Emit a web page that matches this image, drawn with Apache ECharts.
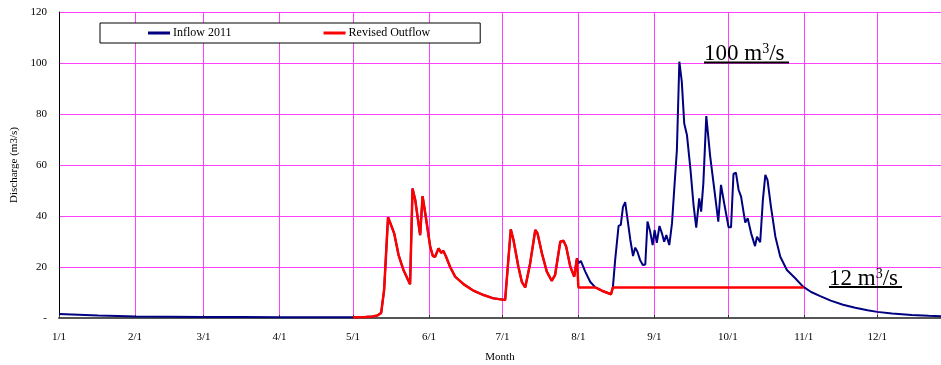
<!DOCTYPE html>
<html><head><meta charset="utf-8">
<script src="https://cdn.jsdelivr.net/npm/echarts@6/dist/echarts.min.js"></script>
<style>html,body{margin:0;padding:0;background:#fff}#c{width:941px;height:365px}</style>
</head><body><div id="c"></div>
<script>
const monthDays = [0, 31, 59, 90, 120, 151, 181, 212, 243, 273, 304, 334];
const monthLabels = ['1/1','2/1','3/1','4/1','5/1','6/1','7/1','8/1','9/1','10/1','11/1','12/1'];
const inflowDays = [0,8,16,24,31,45,59,75,90,105,120,125,128,130,131.5,132.7,134.3,135.8,136.8,138.6,140.6,143.3,144.3,145.4,147.4,148.4,149.7,151.5,152.6,153.5,154.9,156,156.9,158,159.7,161.7,165.1,169.2,173.3,177.3,182.1,184.4,185.5,187.5,188.9,190.3,192.3,194.4,195.3,197.1,199.1,201.1,202.5,204.6,205.9,207,208.7,210.3,211.4,212,213,214.8,216.8,218.9,221.6,225.3,226.1,227,228.4,229.3,230.2,231.1,232.1,233.2,234.3,235.2,236.1,237.2,238.3,239.3,240.2,241.3,242.3,243.1,244,245.1,246.1,247,247.9,249.1,250.2,251.1,252.2,253.2,254.2,255.2,256.3,257.7,259,260.1,261.3,262.1,263,264.2,265.8,267.5,269.1,270.2,271.5,273.3,274.3,275.3,276.3,277.4,278.4,280.1,281.1,282.5,284.1,284.9,286.2,287.3,288.3,289.2,290.6,292.4,294.4,297.1,300.5,303.7,307,310.7,315,320,325,330,334,340,348,355,360];
const inflowVals = [1.6,1.3,1.0,0.8,0.6,0.5,0.4,0.35,0.3,0.3,0.3,0.4,0.6,1.0,2.0,11,39.5,35.8,33.2,24.7,18.8,13.2,50.8,46.3,32.5,47.8,39.7,28,24.3,24,27.3,25.6,26.3,24,19.9,16.2,13.3,10.7,9.0,7.7,7.1,34.8,30.6,20.1,14.2,12,21.4,34.5,33.2,25.4,18.2,14.6,16.9,29.9,30.3,28,20.1,16.2,23.4,21.4,22.4,18.2,14.2,12,10.7,9.3,12.3,22.7,36.1,36.5,43.6,45.4,38.4,30.6,24.3,27.6,26,22.7,20.8,21,37.8,33.9,28.6,34.5,29.5,36.1,33.2,29.9,32.5,28.6,37.1,50.2,65.9,100.5,92.7,76.3,71.8,58.7,44.3,35.4,46.9,41.7,52.8,79.2,63.3,50.2,37.8,52.2,45,35.6,35.6,56.5,57,50.2,47.6,37.4,39.1,33.2,28.2,31.9,29.7,46.3,56.1,54.1,43.6,31.9,24,18.8,15.6,12.3,10.2,8.6,6.8,5.2,4.0,3.0,2.4,1.8,1.2,0.9,0.7];
const outflowDays = [120,125,128,130,131.5,132.7,134.3,135.8,136.8,138.6,140.6,143.3,144.3,145.4,147.4,148.4,149.7,151.5,152.6,153.5,154.9,156,156.9,158,159.7,161.7,165.1,169.2,173.3,177.3,182.1,184.4,185.5,187.5,188.9,190.3,192.3,194.4,195.3,197.1,199.1,201.1,202.5,204.6,205.9,207,208.7,210.3,211.4,212,218.9,221.6,225.3,226.1,304];
const outflowVals = [0.3,0.4,0.6,1.0,2.0,11,39.5,35.8,33.2,24.7,18.8,13.2,50.8,46.3,32.5,47.8,39.7,28,24.3,24,27.3,25.6,26.3,24,19.9,16.2,13.3,10.7,9.0,7.7,7.1,34.8,30.6,20.1,14.2,12,21.4,34.5,33.2,25.4,18.2,14.6,16.9,29.9,30.3,28,20.1,16.2,23.4,12,12,10.7,9.3,12,12];

const FONT = "'Liberation Serif', 'Times New Roman', serif";
const GRID = '#ff40ff';
const zip = (a, b) => a.map((d, i) => [d, b[i]]);

const chart = echarts.init(document.getElementById('c'), null, {renderer: 'canvas'});
chart.setOption({
  animation: false,
  backgroundColor: '#fff',
  textStyle: {fontFamily: FONT},
  grid: {left: 59, right: 0, top: 12, bottom: 47, containLabel: false, outerBoundsMode: 'none'},
  legend: {
    left: 100, top: 23,
    padding: [4, 50, 4, 48],
    itemGap: 92,
    itemWidth: 22, itemHeight: 3,
    icon: 'rect',
    backgroundColor: '#fff',
    borderColor: '#000', borderWidth: 1,
    textStyle: {fontFamily: FONT, fontSize: 12, color: '#000', padding: [0, 0, 0, -2]},
    data: ['Inflow 2011', 'Revised Outflow']
  },
  xAxis: {
    type: 'value', min: 0, max: 360,
    name: 'Month', nameLocation: 'middle', nameGap: 34,
    nameTextStyle: {fontFamily: FONT, fontSize: 11, color: '#000'},
    axisLine: {show: true, lineStyle: {color: '#555', width: 2}},
    axisTick: {show: true, inside: true, length: 3, customValues: monthDays, lineStyle: {color: '#333'}},
    axisLabel: {customValues: monthDays, margin: 14, fontFamily: FONT, fontSize: 11, color: '#000',
      formatter: v => monthLabels[monthDays.indexOf(v)] || ''},
    splitLine: {show: true, lineStyle: {color: GRID, width: 1}}
  },
  yAxis: {
    type: 'value', min: 0, max: 120, interval: 20,
    name: 'Discharge (m3/s)', nameLocation: 'middle', nameGap: 37,
    nameTextStyle: {fontFamily: FONT, fontSize: 11, color: '#000'},
    axisLine: {show: true, lineStyle: {color: '#000', width: 1}},
    axisTick: {show: false},
    axisLabel: {margin: 12, fontFamily: FONT, fontSize: 11, color: '#000',
      formatter: v => v === 0 ? '-' : String(v)},
    splitLine: {show: true, lineStyle: {color: GRID, width: 1}}
  },
  series: [
    {name: 'Inflow 2011', type: 'line', data: zip(inflowDays, inflowVals), symbol: 'none',
      lineStyle: {color: '#000080', width: 2}, itemStyle: {color: '#000080'}, z: 2},
    {name: 'Revised Outflow', type: 'line', data: zip(outflowDays, outflowVals), symbol: 'none',
      lineStyle: {color: '#ff0000', width: 2.5}, itemStyle: {color: '#ff0000'}, z: 3}
  ],
  graphic: [
    {type: 'text', x: 704, y: 42, z: 10, style: {text: '100 m{sup|3}/s', font: '23px ' + FONT, fill: '#000',
      rich: {sup: {fontSize: 14, fontFamily: FONT, verticalAlign: 'top', padding: [0, 0, 10, 0]}}}},
    {type: 'line', z: 10, shape: {x1: 704, y1: 62.5, x2: 789, y2: 62.5}, style: {stroke: '#000', lineWidth: 2}},
    {type: 'text', x: 829, y: 267, z: 10, style: {text: '12 m{sup|3}/s', font: '23px ' + FONT, fill: '#000',
      rich: {sup: {fontSize: 14, fontFamily: FONT, verticalAlign: 'top', padding: [0, 0, 10, 0]}}}},
    {type: 'line', z: 10, shape: {x1: 829, y1: 287, x2: 902, y2: 287}, style: {stroke: '#000', lineWidth: 2}}
  ]
});
</script>
</body></html>
